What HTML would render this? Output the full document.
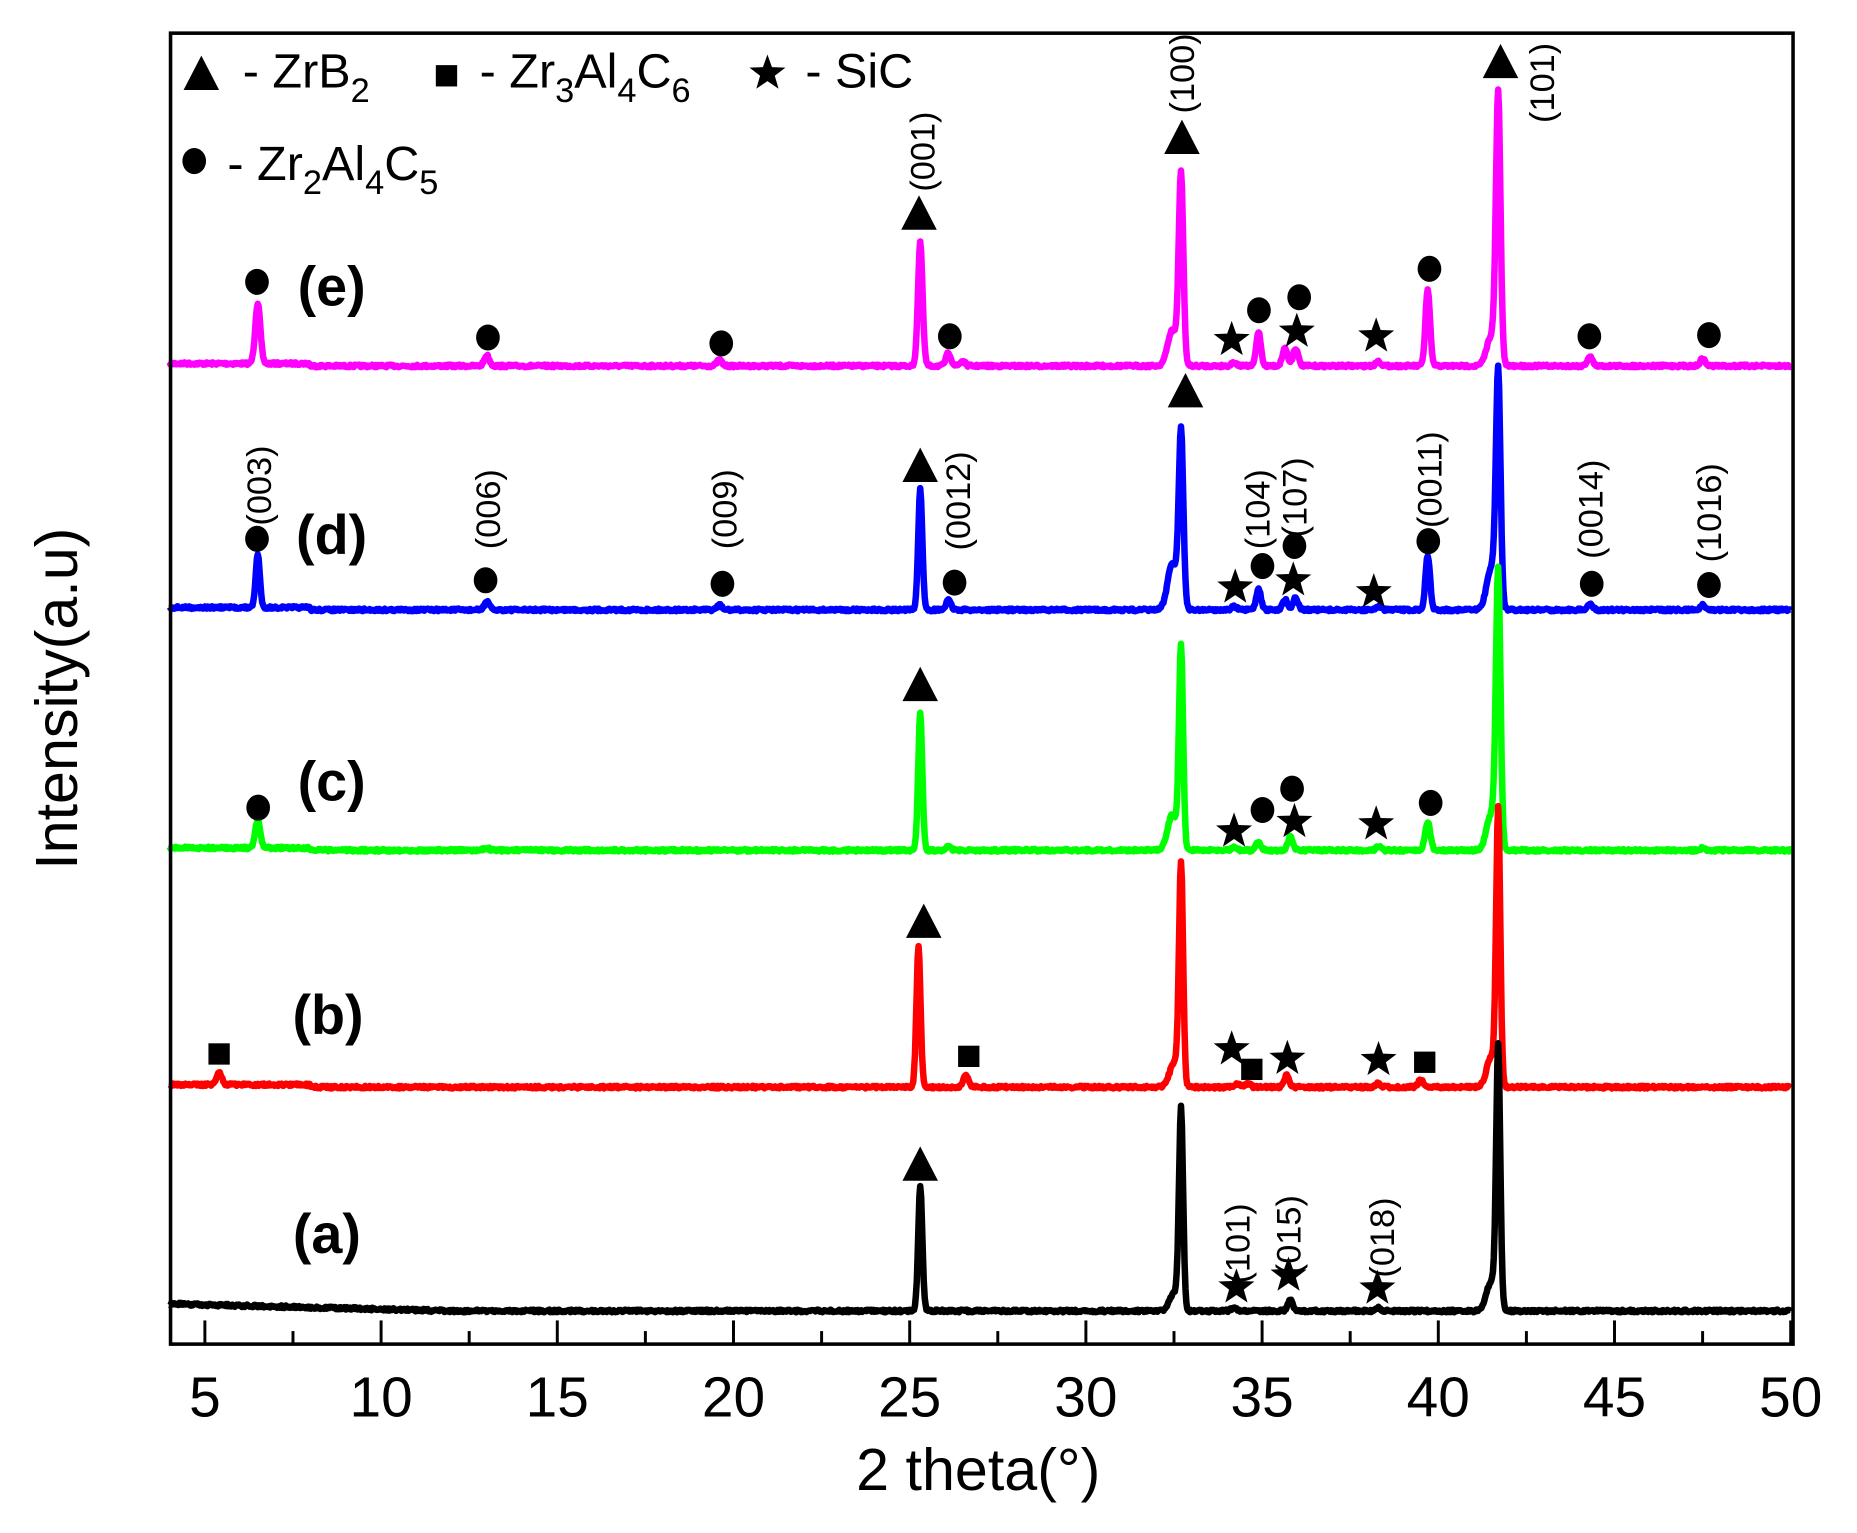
<!DOCTYPE html>
<html><head><meta charset="utf-8"><style>
html,body{margin:0;padding:0;background:#fff;}
svg{display:block;}
text{font-family:"Liberation Sans",sans-serif;fill:#000;}
</style></head><body>
<svg id="s" width="1857" height="1533" viewBox="0 0 1568 1294.5" preserveAspectRatio="none" xmlns="http://www.w3.org/2000/svg">
<rect x="0" y="0" width="1568" height="1294.5" fill="#fff"/>
<g id="curves" fill="none" stroke-width="5.5" stroke-linejoin="round"></g>
<g id="marks"></g>
<rect x="144" y="28" width="1370" height="1107" fill="none" stroke="#000" stroke-width="3"/>
<g id="ticks" stroke="#000" stroke-width="2.5"></g>
<g font-size="48" text-anchor="middle" id="tl"></g>
<text x="826" y="1258" font-size="50" text-anchor="middle">2  theta(°)</text>
<text transform="translate(65,590) rotate(-90)" font-size="50" text-anchor="middle">Intensity(a.u)</text>
<g font-size="41">
<text x="205" y="74">- ZrB<tspan font-size="29" dy="12">2</tspan></text>
<text x="405" y="74">- Zr<tspan font-size="29" dy="12">3</tspan><tspan dy="-12">Al</tspan><tspan font-size="29" dy="12">4</tspan><tspan dy="-12">C</tspan><tspan font-size="29" dy="12">6</tspan></text>
<text x="680" y="74">- SiC</text>
<text x="192" y="152">-  Zr<tspan font-size="29" dy="12">2</tspan><tspan dy="-12">Al</tspan><tspan font-size="29" dy="12">4</tspan><tspan dy="-12">C</tspan><tspan font-size="29" dy="12">5</tspan></text>
</g>
<g font-size="47" font-weight="bold" text-anchor="middle">
<text x="280" y="258">(e)</text>
<text x="280" y="468">(d)</text>
<text x="280" y="676">(c)</text>
<text x="277" y="873">(b)</text>
<text x="276" y="1058">(a)</text>
</g>
<g id="hkl" font-size="29"></g>
</svg>
<script>
var NS="http://www.w3.org/2000/svg";
function X(v){return 173+29.756*(v-5);}
function el(t,a,p){var e=document.createElementNS(NS,t);for(var k in a)e.setAttribute(k,a[k]);(p||document.getElementById('s')).appendChild(e);return e;}
var seed=7;function rnd(){seed=(seed*16807)%2147483647;return seed/2147483647-0.5;}
var series=[
 ['#ff00ff',309,[[6.5,51,.11],[13,9,.11],[19.6,5,.11],[25.3,104,.1],[26.1,11,.11],[26.5,4,.11],[32.45,30,.2],[32.7,160,.1],[34.2,3,.11],[34.9,29,.1],[35.65,15,.11],[35.95,15,.11],[38.3,4,.11],[39.7,64,.1],[41.5,25,.2],[41.7,225,.1],[44.3,8,.11],[47.5,6,.11]],0],
 ['#0000ff',515,[[6.5,45,.09],[13,7,.11],[19.6,4,.11],[25.3,102,.09],[26.1,8,.11],[32.45,40,.2],[32.7,148,.1],[34.2,3,.11],[34.9,18,.1],[35.65,9,.11],[35.95,10,.11],[38.3,3,.11],[39.7,46,.1],[41.5,35,.2],[41.7,195,.1],[44.3,5,.11],[47.5,4,.11]],0],
 ['#00ff00',718,[[6.5,23,.11],[13,2,.11],[25.3,115,.09],[26.1,3,.11],[32.45,30,.2],[32.7,170,.09],[34.2,3,.11],[34.9,7,.11],[35.8,11,.11],[38.3,3,.11],[39.7,24,.11],[41.5,30,.2],[41.7,230,.1],[47.5,2,.11]],0],
 ['#ff0000',918,[[5.4,11,.11],[25.25,118,.09],[26.6,10,.11],[32.5,20,.2],[32.7,185,.09],[34.3,3,.11],[34.6,3,.11],[35.7,10,.11],[38.3,3,.11],[39.5,6,.11],[41.5,25,.2],[41.7,230,.09]],0],
 ['#000000',1107,[[25.3,106,.09],[32.5,15,.2],[32.7,168,.09],[34.2,3,.11],[35.8,9,.11],[38.3,3,.11],[41.5,25,.2],[41.7,218,.09]],1]
];
var cg=document.getElementById('curves');
series.forEach(function(s){
 var d='';
 for(var v=4.0;v<=50.0;v+=0.025){
  var y=s[1]+(s[3]?(v<12?-6*(12-v)/8:0):(v<8?-2:0));
  s[2].forEach(function(p){var t=(v-p[0])/p[2];y-=p[1]*Math.exp(-t*t*0.9)/(1+0.3*t*t);});
  y+=rnd()*2.2;
  d+=(d?'L':'M')+X(v).toFixed(1)+' '+y.toFixed(1);
 }
 el('path',{d:d,stroke:s[0]},cg);
});
var mg=document.getElementById('marks');
function circ(x,y){el('ellipse',{cx:x,cy:y,rx:10,ry:11,fill:'#000'},mg);}
function tri(x,y){el('polygon',{points:(x-15)+','+(y+14)+' '+(x+15)+','+(y+14)+' '+x+','+(y-15),fill:'#000'},mg);}
function sq(x,y){el('rect',{x:x-9,y:y-9,width:18,height:18,fill:'#000'},mg);}
function star(x,y){var p=[];for(var i=0;i<10;i++){var r=i%2?6.5:16,a=-Math.PI/2+i*Math.PI/5;p.push((x+r*Math.cos(a)).toFixed(1)+','+(y+r*Math.sin(a)).toFixed(1));}el('polygon',{points:p.join(' '),fill:'#000'},mg);}
[[217,238],[412,285],[609,290],[802,284],[1063,262],[1097,251],[1207,227],[1342,284],[1443,283],
 [217,455],[410,490],[610,493],[806,492],[1066,478],[1093,461],[1206,457],[1344,493],[1443,494],
 [218,682],[1066,684],[1091,666],[1208,678],[164,136]].forEach(function(c){circ(c[0],c[1]);});
[[1040,287],[1095,280],[1162,284],[1043,496],[1092,490],[1160,500],[1042,702],[1093,694],[1162,696],
 [1040,886],[1087,894],[1164,895],[1044,1087],[1088,1077],[1163,1088],[648,62]].forEach(function(c){star(c[0],c[1]);});
[[776,180],[998,116],[1267,52],[777,393],[1001,330],[777,578],[780,778],[777,983],[170,62]].forEach(function(c){tri(c[0],c[1]);});
[[185,890],[818,892],[1057,903],[1203,897],[377,64]].forEach(function(c){sq(c[0],c[1]);});
var hg=document.getElementById('hkl');
[['(001)',779,128],['(100)',998,62],['(101)',1302,70],['(003)',219,410],['(006)',412,430],['(009)',612,430],['(0012)',809,423],
 ['(104)',1062,430],['(107)',1093,420],['(0011)',1207,405],['(0014)',1343,430],['(1016)',1443,433],
 ['(101)',1045,1050],['(015)',1088,1043],['(018)',1167,1045]].forEach(function(l){
 var t=el('text',{transform:'translate('+(l[1]+10)+','+l[2]+') rotate(-90)','text-anchor':'middle'},hg);t.textContent=l[0];});
var tg=document.getElementById('ticks'),tl=document.getElementById('tl');
for(var v=5;v<=50;v+=2.5){var maj=(v%5===0);el('line',{x1:X(v),x2:X(v),y1:1135,y2:maj?1115:1124},tg);
 if(maj){var t=el('text',{x:X(v),y:1196},tl);t.textContent=v;}}
</script>
</body></html>
